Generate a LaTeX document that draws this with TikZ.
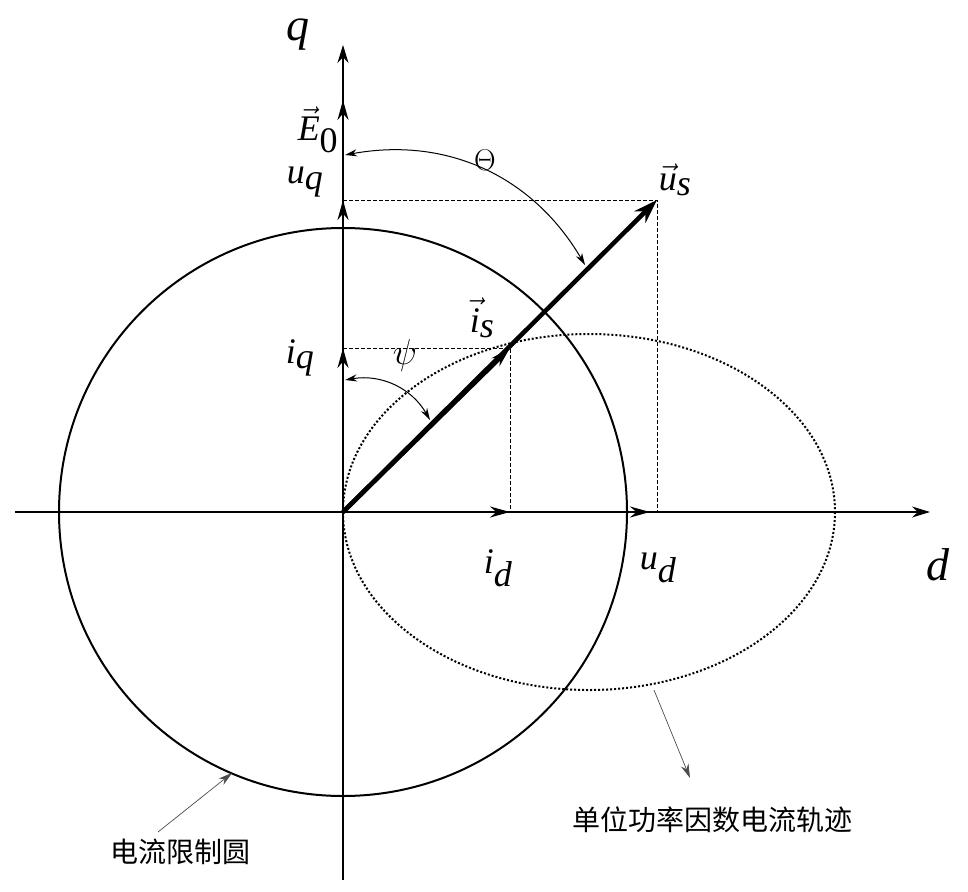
\RequirePackage{fix-cm}
\documentclass[tikz,border=0pt]{standalone}
\usepackage{fontspec}
\setmainfont{Liberation Serif}
\newfontfamily\cjk{Noto Sans CJK SC}
\usetikzlibrary{arrows.meta}
\newcommand{\ti}[1]{\textit{#1}}
\tikzset{
 ax/.style={line width=1.6pt,-{Stealth[length=18pt,width=11pt]}},
 vec/.style={line width=2.4pt,-{Stealth[length=20pt,width=11pt]}},
 bvec/.style={line width=4.5pt,-{Stealth[length=24pt,width=16pt]}},
 dsh/.style={line width=0.5pt,dash pattern=on 4pt off 2pt},
 dbl/.style={line width=1pt,{Stealth[length=12pt,width=7pt]}-{Stealth[length=12pt,width=7pt]}},
 lbl/.style={font=\fontsize{36}{36}\selectfont},
 cn/.style={font=\cjk\fontsize{28}{28}\selectfont},
 ann/.style={line width=0.7pt,-{Stealth[length=14pt,width=8pt]},gray!60!black}
}
\begin{document}
\begin{tikzpicture}[x=1pt,y=-1pt]
\useasboundingbox (0,0) rectangle (968,891);
\coordinate (O) at (343,512);
\coordinate (Us) at (657,200);
\coordinate (Is) at (510,348);
\coordinate (Uq) at (343,200);
\coordinate (Iq) at (343,348);
\coordinate (E0) at (343,100);
\coordinate (Ud) at (650,512);
\coordinate (Id) at (510,512);
\coordinate (Ut) at (657,512);
\draw[line width=2pt] (O) circle (284);
\draw[line width=2pt,dash pattern=on 2pt off 2pt] (589,512) ellipse (246 and 178);
\draw[dsh] (Uq) -- (Us) -- (Ut);
\draw[dsh] (Iq) -- (510,348) -- (Id);
\draw[line width=1.6pt] (343,880) -- (343,60);
\draw[ax] (343,150) -- (343,45);
\draw[ax] (15,512) -- (930,512);
\draw[vec] (O) -- (E0);
\draw[vec] (O) -- (Uq);
\draw[vec] (O) -- (Iq);
\draw[vec] (O) -- (Ud);
\draw[vec] (O) -- (Id);
\draw[bvec] (O) -- (Us);
\draw[vec,line width=4.5pt] (O) -- (Is);
\draw[dbl] (345,155) to[bend left=35] (585,265);
\draw[dbl] (345,380) to[bend left=35] (430,420);
\node[lbl,font=\fontsize{46}{46}\selectfont] (lq) at (298,35) {\ti{q}};
\node[lbl,font=\fontsize{46}{46}\selectfont] (ld) at (938,565) {\ti{d}};
\node[lbl] (lE) at (318,130) {$\vec{\ti{E}}_{\textrm{0}}$};
\node[lbl] (luq) at (305,182) {$\ti{u}_{\ti{q}}$};
\node[lbl] (lus) at (675,180) {$\vec{\ti{u}}_{\ti{s}}$};
\node[lbl] (lis) at (482,318) {$\vec{\ti{i}}_{\ti{s}}$};
\node[lbl] (liq) at (300,358) {$\ti{i}_{\ti{q}}$};
\node[lbl] (lpsi) at (405,355) {$\psi$};
\node[lbl,font=\fontsize{30}{30}\selectfont] (lth) at (485,160) {$\Theta$};
\node[lbl] (lid) at (498,568) {$\ti{i}_{\ti{d}}$};
\node[lbl] (lud) at (658,568) {$\ti{u}_{\ti{d}}$};
\node[cn] (c1) at (180,852) {电流限制圆};
\node[cn] (c2) at (712,820) {单位功率因数电流轨迹};
\coordinate (a1) at (232,773);
\coordinate (a2) at (690,778);
\draw[ann] (158,832) -- (a1);
\draw[ann] (654,690) -- (a2);
\end{tikzpicture}
\end{document}
